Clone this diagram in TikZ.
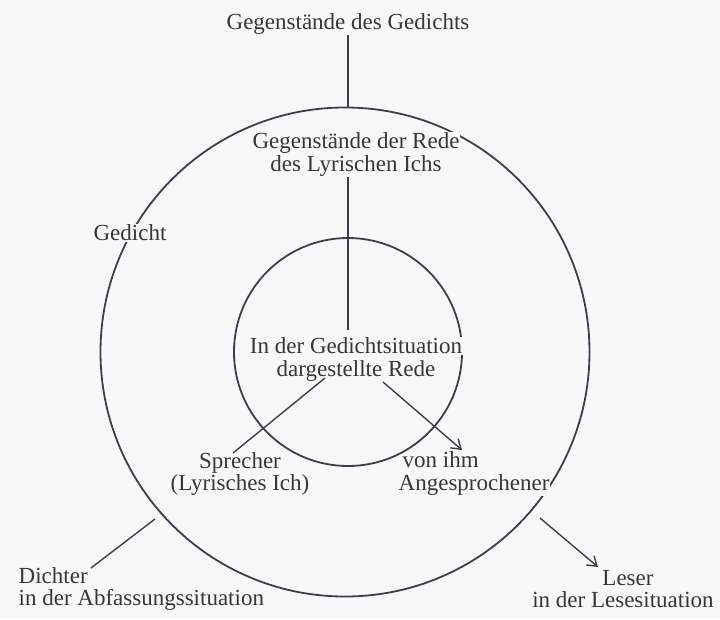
\documentclass[tikz,border=0pt]{standalone}
\usepackage{fontspec}
\setmainfont{Liberation Serif}
\usetikzlibrary{arrows.meta}
\definecolor{ink}{HTML}{403C4C}
\definecolor{txt}{HTML}{383636}
\definecolor{paper}{HTML}{F8F8F8}
\newcommand{\maskline}[1]{{\setlength{\fboxsep}{1pt}\colorbox{paper}{#1}}}
\begin{document}
\begin{tikzpicture}[x=1pt,y=-1pt,
  lbl/.style={text=txt, font=\fontsize{23}{22.5}\selectfont, inner sep=0.5pt, align=center},
  mask/.style={fill=paper},
  ring/.style={draw=ink, line width=1.8pt, circle, inner sep=0pt},
  conn/.style={draw=ink, line width=1.4pt},
  arr/.style={conn, -{Straight Barb[length=9pt,width=12pt,line width=1.4pt]}}
]
\fill[paper] (0,0) rectangle (720,619);
\useasboundingbox (0,0) rectangle (720,619);
\node[ring, minimum size=489pt] (outer) at (345,352) {};
\node[ring, minimum size=228pt] (inner) at (348,352) {};
\node[lbl] (top) at (348,24) {Gegenstände des Gedichts};
\node[lbl] (mid) at (356,154) {\maskline{Gegenstände der Rede}\\des Lyrischen Ichs};
\node[lbl] (rede) at (356,359) {\maskline{In der Gedichtsituation}\\dargestellte Rede};
\node[lbl, mask] (gedicht) at (130,233) {Gedicht};
\node[lbl] (sprecher) at (240,474) {Sprecher\\(Lyrisches Ich)};
\node[lbl, align=left, anchor=west] (ang) at (397,474) {\hspace{5pt}von ihm\\\maskline{Angesprochener}};
\node[lbl, align=left, anchor=west] (dichter) at (18,589) {Dichter\\in der Abfassungssituation};
\node[lbl] (leser) at (623,589) {\hspace{10pt}Leser\\in der Lesesituation};
\coordinate (s1) at (325,378);
\coordinate (s2) at (233,453);
\coordinate (a1) at (383,382);
\coordinate (a2) at (462,450);
\coordinate (d1) at (155,519);
\coordinate (d2) at (91,568);
\coordinate (l1) at (540,518);
\coordinate (l2) at (598,567);
\draw[conn] (top.south) -- (top.south |- outer.north);
\draw[conn] (mid.south -| inner.north) -- ([yshift=6pt]rede.north -| inner.north);
\draw[conn] (s1) -- (s2);
\draw[arr] (a1) -- (a2);
\draw[conn] (d1) -- (d2);
\draw[arr] (l1) -- (l2);
\end{tikzpicture}
\end{document}
